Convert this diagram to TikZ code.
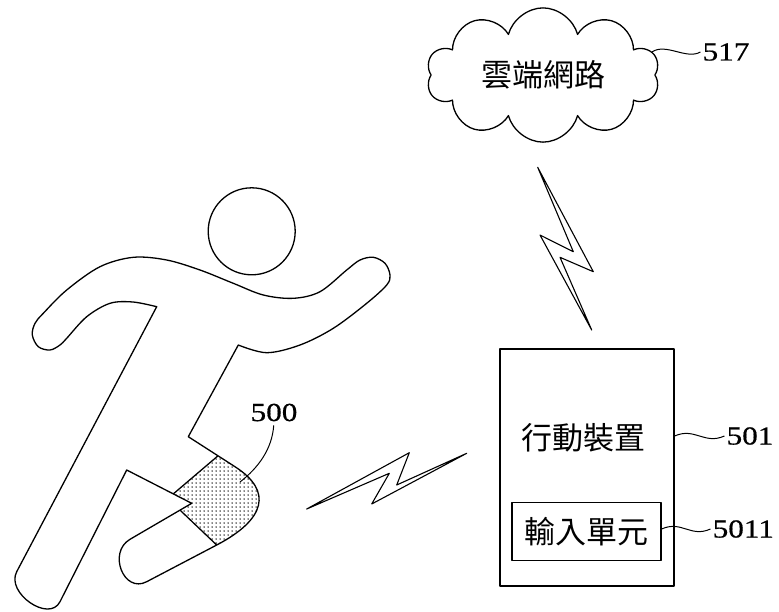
\documentclass[tikz,border=0pt]{standalone}
\usepackage{fontspec}
\newfontfamily\cjkfont{Noto Sans CJK TC}
\newfontfamily\numfont[FakeStretch=1.2,FakeBold=0.6]{Liberation Serif}
\usetikzlibrary{shapes.symbols,patterns}

% sparse dot fill for the sensor patch
\pgfdeclarepatternformonly{sparsedots}{\pgfqpoint{-1pt}{-1pt}}{\pgfqpoint{1pt}{1pt}}{\pgfqpoint{4pt}{4pt}}%
  {\pgfpathcircle{\pgfqpoint{0pt}{0pt}}{.75pt}\pgfusepath{fill}}

\begin{document}
\begin{tikzpicture}[x=1pt,y=-1pt,line join=round,
  outline/.style={draw=black,line width=1.3pt},
  refnum/.style={font=\numfont\fontsize{26}{26}\selectfont,inner sep=0pt},
  cjk/.style={font=\cjkfont\fontsize{31}{31}\selectfont,inner sep=0pt},
  leader/.style={draw,line width=1pt},
  bolt/.style={draw,line width=1.1pt,fill=white},
  boxstyle/.style={draw,line width=1.3pt,inner sep=0pt}]
\useasboundingbox (0,0) rectangle (779,611);

% ---- runner ----
% sensor patch on the front thigh
\fill[pattern=sparsedots] (218,455.8) -- (235.3,466.9)
  .. controls (273,491.2) and (265.4,519.5) .. (216.7,545)
  -- (180,510.1) -- (191.7,503.3) -- (173.3,493.9) -- cycle;

% body outline
\draw[outline]
  plot[smooth,tension=0.55] coordinates {(156.7,306.7) (133,302) (110,303.3) (86.7,316.7)
    (66.7,338.3) (60,345) (50,350) (38.3,346.7) (32.3,335) (35,323.3) (43.3,313.3)
    (66.7,290) (100,266.7) (133.3,257.3) (166.7,260) (200,270) (233.3,283.3)
    (263.3,295) (293.3,298.3) (320,291.7) (346.7,270) (360,260) (373.3,257.3)
    (385,263.3) (390,275) (386.7,285) (366.7,303.3) (333.3,328.3) (300,345)
    (266.7,352.7) (238.3,345)}
  -- (188.3,436.7) -- (235.3,466.9)
  .. controls (273,491.2) and (265.4,519.5) .. (216.7,545)
  -- (146.7,581.7)
  .. controls (123.7,593.8) and (107.5,552.4) .. (130,539.3)
  -- (191.7,503.3) -- (126.7,470) -- (60,601.7)
  .. controls (49.2,623.1) and (5.5,592.9) .. (16.7,571.7)
  -- cycle;

% patch edges
\draw[outline] (218,455.8) -- (173.3,493.9);
\draw[outline] (216.7,545) -- (180,510.1);

% head
\draw[outline] (251.7,231.3) circle[radius=43.5pt];

% ---- cloud ----
\node[cloud,draw,line width=1.3pt,cloud puffs=10,aspect=1.8,
      minimum width=233pt,minimum height=131pt,cjk] (cloud) at (543,75) {雲端網路};

% ---- mobile device ----
\node[boxstyle,minimum width=174pt,minimum height=237pt] (dev) at (587,467.5) {};
\node[cjk] (devname) at (583,438) {行動裝置};
\node[boxstyle,line width=1.2pt,minimum width=149pt,minimum height=58pt,cjk] (inp) at (586.5,531.5) {輸入單元};

% ---- wireless links ----
\draw[bolt] (306.7,509) -- (409.3,452.7) -- (396.7,485) -- (466.7,453.3)
  -- (371.7,504) -- (389.3,473.3) -- cycle;
\draw[bolt] (537.7,167.3) -- (593.3,271.7) -- (560,257.3) -- (591.7,330)
  -- (540,235) -- (573.3,251.7) -- cycle;

% ---- reference numerals ----
\node[refnum] (n517) at (726,52) {517};
\node[refnum] (n501) at (750,436) {501};
\node[refnum] (n5011) at (743.3,529) {5011};
\node[refnum] (n500) at (274,412.5) {500};

\draw[leader] (cloud.12) .. controls +(14,-9) and +(-14,8) .. ([xshift=-2pt]n517.west);
\draw[leader] (dev.east |- n501.west) .. controls +(20,-9) and +(-20,9) .. ([xshift=-2pt]n501.west);
\draw[leader] (inp.east |- n5011.west) .. controls +(20,-9) and +(-20,9) .. ([xshift=-2pt]n5011.west);
\coordinate (p500) at (240,482);
\draw[leader,shorten <=4pt] (n500.south) .. controls +(-2,28) and +(18,-14) .. (p500);
\end{tikzpicture}
\end{document}
